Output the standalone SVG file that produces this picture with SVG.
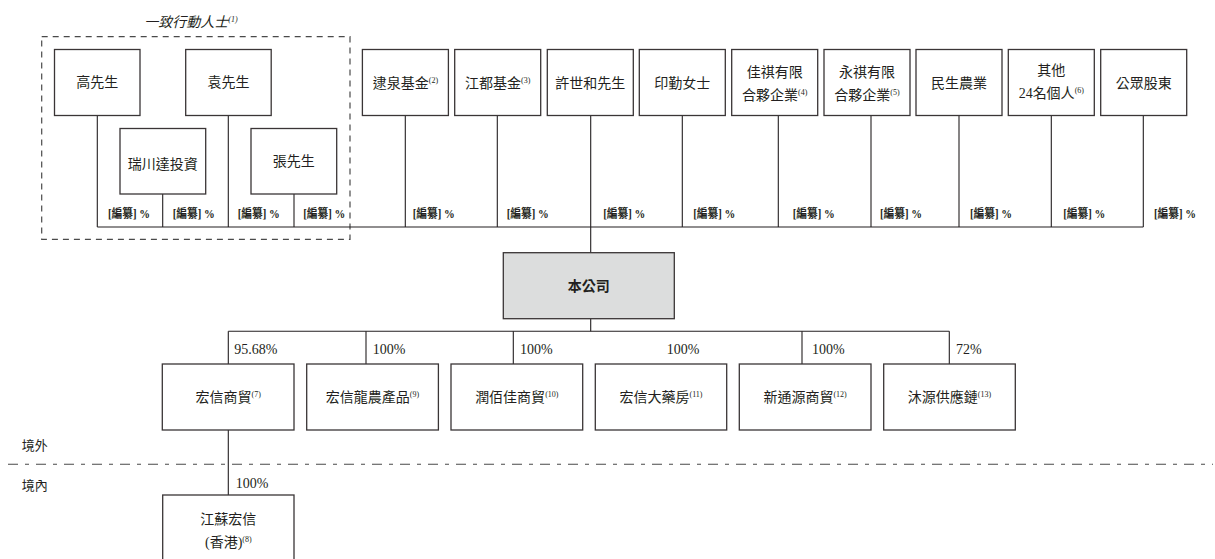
<svg xmlns="http://www.w3.org/2000/svg" width="1215" height="559" viewBox="0 0 1215 559">
<style>
text{font-family:"Liberation Serif","Noto Sans CJK TC",serif;fill:#231f20;}
.n{font-size:14px;text-anchor:middle;}
.b{font-weight:bold;}
.sup{font-size:8px;}
.pct{font-size:14px;}
.lab{font-size:12px;font-weight:bold;}
.box{fill:#fff;stroke:#3a3536;stroke-width:1.3;}
.co{fill:#dcdddd;stroke:#3a3536;stroke-width:1.3;}
.ln{stroke:#231f20;stroke-width:1.1;fill:none;}
</style>
<rect width="1215" height="559" fill="#fff"/>

<g id="concert">
<text x="191" y="27" class="n" font-style="italic">一致行動人士<tspan class="sup" dy="-5">(1)</tspan></text>
<rect x="41.7" y="36.7" width="308.3" height="202.6" fill="none" stroke="#4a4a4a" stroke-width="1.2" stroke-dasharray="6 5"/>
</g>

<g id="connectors" class="ln">
<line x1="97.3" y1="227" x2="1143.3" y2="227"/>
<line x1="97.3" y1="115.5" x2="97.3" y2="227"/>
<line x1="162.7" y1="194" x2="162.7" y2="227"/>
<line x1="228.3" y1="115.5" x2="228.3" y2="227"/>
<line x1="294" y1="194" x2="294" y2="227"/>
<line x1="405.3" y1="115.5" x2="405.3" y2="227"/>
<line x1="497.3" y1="115.5" x2="497.3" y2="227"/>
<line x1="590.7" y1="115.5" x2="590.7" y2="252.7"/>
<line x1="682.3" y1="115.5" x2="682.3" y2="227"/>
<line x1="778.3" y1="115.5" x2="778.3" y2="227"/>
<line x1="871" y1="115.5" x2="871" y2="227"/>
<line x1="959" y1="115.5" x2="959" y2="227"/>
<line x1="1051.3" y1="115.5" x2="1051.3" y2="227"/>
<line x1="1143.3" y1="115.5" x2="1143.3" y2="227"/>
<line x1="590.7" y1="318.7" x2="590.7" y2="331.3"/>
<line x1="228.3" y1="331.3" x2="949.3" y2="331.3"/>
<line x1="228.3" y1="331.3" x2="228.3" y2="364"/>
<line x1="366" y1="331.3" x2="366" y2="364"/>
<line x1="513.3" y1="331.3" x2="513.3" y2="364"/>
<line x1="802" y1="331.3" x2="802" y2="364"/>
<line x1="949.3" y1="331.3" x2="949.3" y2="364"/>
<line x1="228.3" y1="430" x2="228.3" y2="495"/>
<line x1="8" y1="464.3" x2="1213" y2="464.3" stroke="#4a4a4a" stroke-dasharray="10 7 4 7"/>
</g>

<g id="share-labels">
<text class="lab" x="108" y="218" textLength="42" lengthAdjust="spacingAndGlyphs">[編纂] %</text>
<text class="lab" x="172.7" y="218" textLength="42" lengthAdjust="spacingAndGlyphs">[編纂] %</text>
<text class="lab" x="237.7" y="218" textLength="42" lengthAdjust="spacingAndGlyphs">[編纂] %</text>
<text class="lab" x="303.3" y="218" textLength="42" lengthAdjust="spacingAndGlyphs">[編纂] %</text>
<text class="lab" x="412.7" y="218" textLength="42" lengthAdjust="spacingAndGlyphs">[編纂] %</text>
<text class="lab" x="506.7" y="218" textLength="42" lengthAdjust="spacingAndGlyphs">[編纂] %</text>
<text class="lab" x="603.3" y="218" textLength="42" lengthAdjust="spacingAndGlyphs">[編纂] %</text>
<text class="lab" x="693.3" y="218" textLength="42" lengthAdjust="spacingAndGlyphs">[編纂] %</text>
<text class="lab" x="792.7" y="218" textLength="42" lengthAdjust="spacingAndGlyphs">[編纂] %</text>
<text class="lab" x="880" y="218" textLength="42" lengthAdjust="spacingAndGlyphs">[編纂] %</text>
<text class="lab" x="970" y="218" textLength="42" lengthAdjust="spacingAndGlyphs">[編纂] %</text>
<text class="lab" x="1063.3" y="218" textLength="42" lengthAdjust="spacingAndGlyphs">[編纂] %</text>
<text class="lab" x="1154" y="218" textLength="42" lengthAdjust="spacingAndGlyphs">[編纂] %</text>
</g>

<g id="n-gao"><rect class="box" x="54.5" y="49.5" width="85.5" height="66"/><text class="n" x="97.3" y="87">高先生</text></g>
<g id="n-yuan"><rect class="box" x="185.7" y="49.5" width="85.5" height="66"/><text class="n" x="228.4" y="87">袁先生</text></g>
<g id="n-ruichuan"><rect class="box" x="120" y="128.5" width="85.7" height="65.5"/><text class="n" x="162.8" y="168.5">瑞川達投資</text></g>
<g id="n-zhang"><rect class="box" x="251" y="128.5" width="85.7" height="65.5"/><text class="n" x="293.8" y="166">張先生</text></g>

<g id="n-quan"><rect class="box" x="362.4" y="49.5" width="86" height="66"/><text class="n" x="405.4" y="87.5">逮泉基金<tspan class="sup" dy="-5">(2)</tspan></text></g>
<g id="n-jiangdu"><rect class="box" x="454.7" y="49.5" width="86" height="66"/><text class="n" x="497.7" y="87.5">江都基金<tspan class="sup" dy="-5">(3)</tspan></text></g>
<g id="n-xu"><rect class="box" x="547.3" y="49.5" width="86" height="66"/><text class="n" x="590.3" y="87.5">許世和先生</text></g>
<g id="n-yin"><rect class="box" x="639.3" y="49.5" width="86" height="66"/><text class="n" x="682.3" y="87.5">印勤女士</text></g>
<g id="n-jiaqi"><rect class="box" x="731.7" y="49.5" width="86" height="66"/><text class="n" x="774.7" y="77.3">佳祺有限</text><text class="n" x="774.7" y="100.3">合夥企業<tspan class="sup" dy="-5">(4)</tspan></text></g>
<g id="n-yongqi"><rect class="box" x="824" y="49.5" width="86" height="66"/><text class="n" x="867" y="77.3">永祺有限</text><text class="n" x="867" y="100.3">合夥企業<tspan class="sup" dy="-5">(5)</tspan></text></g>
<g id="n-minsheng"><rect class="box" x="916" y="49.5" width="86" height="66"/><text class="n" x="959" y="87.5">民生農業</text></g>
<g id="n-others"><rect class="box" x="1008.3" y="49.5" width="86" height="66"/><text class="n" x="1051.3" y="75.3">其他</text><text class="n" x="1051.3" y="98">24名個人<tspan class="sup" dy="-5">(6)</tspan></text></g>
<g id="n-public"><rect class="box" x="1100.7" y="49.5" width="86" height="66"/><text class="n" x="1143.7" y="87.5">公眾股東</text></g>

<g id="n-company"><rect class="co" x="503.3" y="252.7" width="171" height="66"/><text class="n b" x="588.8" y="290.8">本公司</text></g>

<g id="pct-labels" class="pct">
<text x="234.3" y="354">95.68%</text>
<text x="372.7" y="354">100%</text>
<text x="520" y="354">100%</text>
<text x="666.7" y="354">100%</text>
<text x="812" y="354">100%</text>
<text x="956" y="354">72%</text>
<text x="235.7" y="487.5">100%</text>
</g>

<g id="c-hongxin"><rect class="box" x="162.3" y="364" width="131.7" height="66"/><text class="n" x="228.2" y="402">宏信商貿<tspan class="sup" dy="-5">(7)</tspan></text></g>
<g id="c-long"><rect class="box" x="306.7" y="364" width="131.7" height="66"/><text class="n" x="372.5" y="402">宏信龍農產品<tspan class="sup" dy="-5">(9)</tspan></text></g>
<g id="c-runbai"><rect class="box" x="451" y="364" width="131.7" height="66"/><text class="n" x="516.8" y="402">潤佰佳商貿<tspan class="sup" dy="-5">(10)</tspan></text></g>
<g id="c-pharmacy"><rect class="box" x="595.3" y="364" width="131.4" height="66"/><text class="n" x="661" y="402">宏信大藥房<tspan class="sup" dy="-5">(11)</tspan></text></g>
<g id="c-xintong"><rect class="box" x="739.3" y="364" width="131.7" height="66"/><text class="n" x="805.1" y="402">新通源商貿<tspan class="sup" dy="-5">(12)</tspan></text></g>
<g id="c-muyuan"><rect class="box" x="883.7" y="364" width="131.6" height="66"/><text class="n" x="949.5" y="402">沐源供應鏈<tspan class="sup" dy="-5">(13)</tspan></text></g>

<g id="zone-labels">
<text x="21.7" y="450" font-size="13">境外</text>
<text x="21.7" y="490" font-size="13">境內</text>
</g>

<g id="c-jiangsu"><rect class="box" x="162.7" y="495" width="131.3" height="80"/><text class="n" x="228.3" y="523.6">江蘇宏信</text><text class="n" x="228.3" y="547">(香港)<tspan class="sup" dy="-5">(8)</tspan></text></g>
</svg>
